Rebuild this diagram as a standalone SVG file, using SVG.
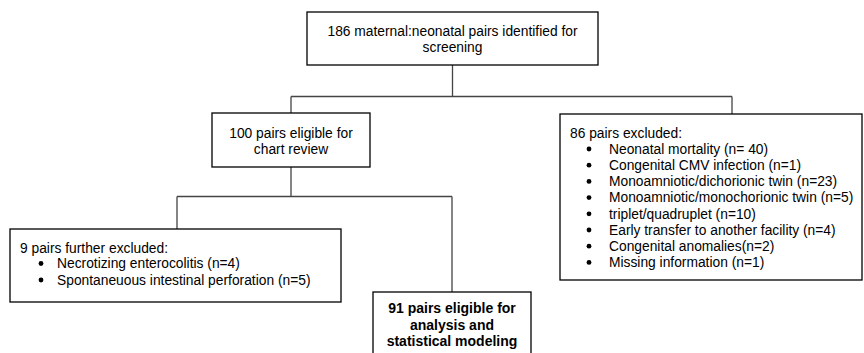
<svg xmlns="http://www.w3.org/2000/svg" width="864" height="353" viewBox="0 0 864 353">
<style>
.box{fill:#fff;stroke:#000;stroke-width:1.3}
.ln{fill:none;stroke:#444;stroke-width:1.3}
text{font-family:"Liberation Sans",Arial,sans-serif;font-size:13.8px;fill:#000}
.c{text-anchor:middle}
.b{font-weight:bold;font-size:14px}
.dot{fill:#000}
</style>
<rect width="864" height="353" fill="#fff"/>
<g id="connectors">
<path class="ln" d="M452.5,65 V96.5 M291,96.5 H732 M291,96.5 V113 M732,96.5 V114"/>
<path class="ln" d="M291,167 V196.5 M177,196.5 H452 M177,196.5 V229 M452,196.5 V292"/>
</g>
<g id="n186">
<rect class="box" x="307" y="12" width="291" height="53"/>
<text class="c" x="452.5" y="35.5">186 maternal:neonatal pairs identified for</text>
<text class="c" x="452.5" y="51.5">screening</text>
</g>
<g id="n100">
<rect class="box" x="212" y="113" width="158" height="54"/>
<text class="c" x="291" y="137.5">100 pairs eligible for</text>
<text class="c" x="291" y="153.5">chart review</text>
</g>
<g id="n86">
<rect class="box" x="560" y="114" width="302" height="166"/>
<text x="570" y="137.5">86 pairs excluded:</text>
<g class="dot">
<circle cx="589" cy="149" r="2.4"/><circle cx="589" cy="165.2" r="2.4"/><circle cx="589" cy="181.4" r="2.4"/><circle cx="589" cy="197.6" r="2.4"/><circle cx="589" cy="213.8" r="2.4"/><circle cx="589" cy="230" r="2.4"/><circle cx="589" cy="246.2" r="2.4"/><circle cx="589" cy="262.4" r="2.4"/>
</g>
<text x="609" y="153.7">Neonatal mortality (n= 40)</text>
<text x="609" y="169.9">Congenital CMV infection (n=1)</text>
<text x="609" y="186.1">Monoamniotic/dichorionic twin (n=23)</text>
<text x="609" y="202.3">Monoamniotic/monochorionic twin (n=5)</text>
<text x="609" y="218.5">triplet/quadruplet (n=10)</text>
<text x="609" y="234.7">Early transfer to another facility (n=4)</text>
<text x="609" y="250.9">Congenital anomalies(n=2)</text>
<text x="609" y="267.1">Missing information (n=1)</text>
</g>
<g id="n9">
<rect class="box" x="10" y="229" width="331" height="73"/>
<text x="20" y="252.5">9 pairs further excluded:</text>
<circle class="dot" cx="41" cy="263.5" r="2.4"/>
<circle class="dot" cx="41" cy="280" r="2.4"/>
<text x="57" y="268">Necrotizing enterocolitis (n=4)</text>
<text x="57" y="284.5">Spontaneuous intestinal perforation (n=5)</text>
</g>
<g id="n91">
<rect class="box" x="373" y="292" width="158" height="70"/>
<text class="c b" x="452" y="313">91 pairs eligible for</text>
<text class="c b" x="452" y="329.5">analysis and</text>
<text class="c b" x="452" y="346">statistical modeling</text>
</g>
</svg>
